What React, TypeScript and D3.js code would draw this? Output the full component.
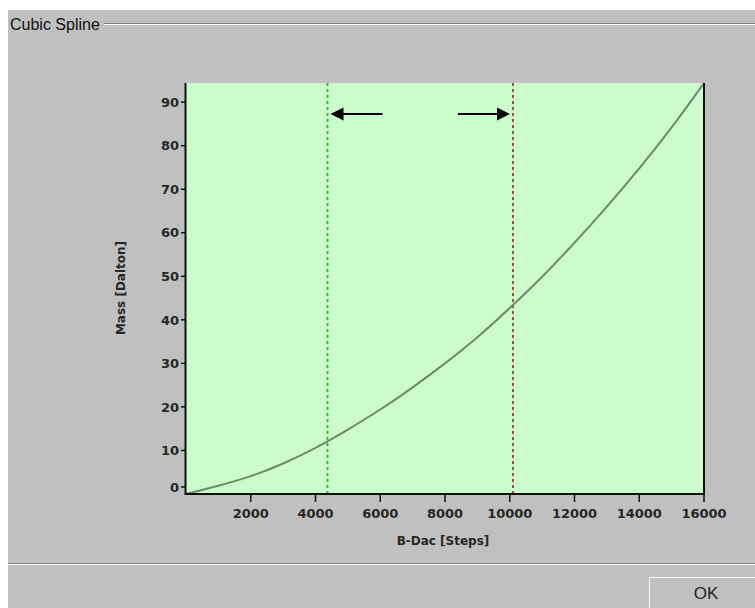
import React from "react";
import * as d3 from "d3";

// Data
const bDacSteps = [0, 1000, 2000, 3000, 4000, 5000, 6000, 7000, 8000, 9000, 10000, 11000, 12000, 13000, 14000, 15000, 16000];
const massDalton = [0, 1.9, 4.1, 7.0, 10.6, 14.8, 19.4, 24.5, 30.0, 36.0, 42.7, 49.9, 57.7, 66.0, 74.8, 84.2, 94.4];
const xTicks = [2000, 4000, 6000, 8000, 10000, 12000, 14000, 16000];
const yTicks = [0, 10, 20, 30, 40, 50, 60, 70, 80, 90];
const lowerLimit = 4370;
const upperLimit = 10100;

const W = 755;
const H = 608;
const M = { left: 186, right: 704, top: 83, bottom: 494 };

export default function App() {
  const x = d3.scaleLinear().domain([0, 16000]).range([M.left, M.right]);
  const y = d3.scaleLinear().domain([0, 94.4]).range([M.bottom, M.top]);
  const pts: [number, number][] = bDacSteps.map((s, i) => [s, massDalton[i]]);
  const line = d3
    .line<[number, number]>()
    .x((d) => x(d[0]))
    .y((d) => y(d[1]))
    .curve(d3.curveNatural);

  const font = "'DejaVu Sans', Verdana, sans-serif";
  const lx = x(lowerLimit);
  const ux = x(upperLimit);
  const arrowY = 114;

  return (
    <svg
      width={W}
      height={H}
      style={{ position: "absolute", left: 0, top: 0, display: "block" }}
    >
      <rect x={0} y={0} width={W} height={H} fill="#ffffff" />
      <rect x={8} y={10} width={W - 8} height={H - 10} fill="#c0c0c0" />

      {/* group box title */}
      <line x1={104} x2={W} y1={23.5} y2={23.5} stroke="#808080" strokeWidth={1} />
      <line x1={104} x2={W} y1={24.5} y2={24.5} stroke="#ffffff" strokeWidth={1} />
      <text x={10} y={30} fontFamily="'Liberation Sans', Arial, sans-serif" fontSize={16} fill="#111">
        Cubic Spline
      </text>

      {/* plot area */}
      <rect x={M.left} y={M.top} width={M.right - M.left} height={M.bottom - M.top} fill="#ccfccc" />

      {/* marker lines */}
      <line x1={lx} x2={lx} y1={M.top} y2={M.bottom} stroke="#3cb43c" strokeWidth={2} strokeDasharray="3,3" />
      <line x1={ux} x2={ux} y1={M.top} y2={M.bottom} stroke="#a4523a" strokeWidth={2} strokeDasharray="3,3" />

      {/* curve */}
      <path d={line(pts) || ""} fill="none" stroke="#6a8c6a" strokeWidth={2} />

      {/* arrows */}
      <line x1={lx + 14} x2={lx + 55} y1={arrowY} y2={arrowY} stroke="#000" strokeWidth={2} />
      <path d={`M${lx + 3},${arrowY} L${lx + 16},${arrowY - 6.5} L${lx + 16},${arrowY + 6.5} Z`} fill="#000" />
      <line x1={ux - 55} x2={ux - 14} y1={arrowY} y2={arrowY} stroke="#000" strokeWidth={2} />
      <path d={`M${ux - 3},${arrowY} L${ux - 16},${arrowY - 6.5} L${ux - 16},${arrowY + 6.5} Z`} fill="#000" />

      {/* axes */}
      <line x1={M.left - 0.5} x2={M.left - 0.5} y1={M.top} y2={M.bottom + 1} stroke="#111" strokeWidth={2} />
      <line x1={M.left - 1} x2={M.right + 1} y1={M.bottom} y2={M.bottom} stroke="#111" strokeWidth={2} />
      <line x1={M.right} x2={M.right} y1={M.top} y2={M.bottom} stroke="#111" strokeWidth={2} />

      {yTicks.map((t) => {
        const yy = Math.min(y(t), M.bottom - 7);
        return (
          <g key={"y" + t}>
            <line x1={M.left - 5} x2={M.left} y1={yy} y2={yy} stroke="#111" strokeWidth={1.5} />
            <text x={M.left - 7} y={yy} dy="0.36em" textAnchor="end" fontFamily={font} fontSize={13} fontWeight="bold" fill="#262626">
              {t}
            </text>
          </g>
        );
      })}
      {xTicks.map((t) => (
        <g key={"x" + t}>
          <line x1={x(t)} x2={x(t)} y1={M.bottom} y2={M.bottom + 8} stroke="#111" strokeWidth={1.5} />
          <text x={x(t)} y={M.bottom + 24} textAnchor="middle" fontFamily={font} fontSize={13} fontWeight="bold" fill="#262626">
            {t}
          </text>
        </g>
      ))}

      <text x={443} y={545} textAnchor="middle" fontFamily={font} fontSize={12} fontWeight="bold" fill="#262626">
        B-Dac [Steps]
      </text>
      <text
        transform={`translate(125,288) rotate(-90)`}
        textAnchor="middle"
        fontFamily={font}
        fontSize={12}
        fontWeight="bold"
        fill="#262626"
      >
        Mass [Dalton]
      </text>

      {/* bottom separator */}
      <line x1={8} x2={W} y1={563.5} y2={563.5} stroke="#808080" strokeWidth={1} />
      <line x1={8} x2={W} y1={564.5} y2={564.5} stroke="#ffffff" strokeWidth={1} />

      {/* OK button */}
      <rect x={649} y={577} width={W - 649} height={H - 577} fill="#c0c0c0" />
      <line x1={649.5} x2={649.5} y1={577} y2={H} stroke="#ffffff" strokeWidth={1} />
      <line x1={649} x2={W} y1={577.5} y2={577.5} stroke="#ffffff" strokeWidth={1} />
      <text x={706} y={599} textAnchor="middle" fontFamily="'Liberation Sans Narrow', 'Liberation Sans', Arial, sans-serif" fontSize={17} fill="#222">
        OK
      </text>
    </svg>
  );
}
